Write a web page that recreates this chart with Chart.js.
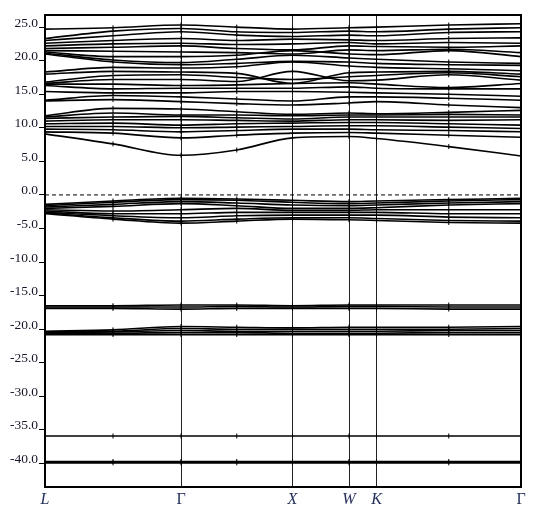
<!DOCTYPE html>
<html>
<head>
<meta charset="utf-8">
<script src="https://cdn.jsdelivr.net/npm/chart.js@4.4.1/dist/chart.umd.min.js"></script>
<style>
  body { margin: 0; background: #fff; }
  canvas { display: block; }
</style>
</head>
<body>
<canvas id="bands" width="539" height="519"></canvas>
<script>
// k-path positions (L, mid, Γ, mid, X, W, K, mid, Γ)
const kPos = [0, 0.68, 1.36, 1.9175, 2.475, 3.04, 3.315, 4.0375, 4.76];
const kTicks = [0, 1.36, 2.475, 3.04, 3.315, 4.76];
const kLabels = ['L', 'Γ', 'X', 'W', 'K', 'Γ'];
const yTicks = [25, 20, 15, 10, 5, 0, -5, -10, -15, -20, -25, -30, -35, -40];

// energies (eV) of each band at kPos
const coreBands = [
    [-39.7, -39.7, -39.7, -39.7, -39.7, -39.7, -39.7, -39.7, -39.7],
    [-39.9, -39.9, -39.9, -39.9, -39.9, -39.9, -39.9, -39.9, -39.9],
    [-35.9, -35.9, -35.9, -35.9, -35.9, -35.9, -35.9, -35.9, -35.9],
    [-20.3, -20.1, -19.6, -19.7, -19.8, -19.7, -19.7, -19.7, -19.6],
    [-20.4, -20.3, -19.9, -20.0, -20.0, -20.0, -20.0, -20.0, -19.9],
    [-20.5, -20.4, -20.2, -20.3, -20.3, -20.3, -20.3, -20.2, -20.2],
    [-20.6, -20.6, -20.5, -20.5, -20.6, -20.6, -20.6, -20.5, -20.5],
    [-20.8, -20.8, -20.8, -20.8, -20.8, -20.8, -20.8, -20.8, -20.8],
    [-16.5, -16.5, -16.4, -16.4, -16.5, -16.4, -16.4, -16.4, -16.4],
    [-16.7, -16.7, -16.7, -16.6, -16.7, -16.6, -16.6, -16.7, -16.7],
    [-16.9, -16.9, -17.0, -16.9, -16.9, -16.9, -16.9, -17.0, -17.0]
];
const valenceBands = [
    [-1.4, -0.9, -0.5, -0.6, -0.8, -1.0, -0.9, -0.7, -0.5],
    [-1.6, -1.1, -0.7, -0.8, -1.1, -1.3, -1.2, -0.9, -0.7],
    [-1.8, -1.4, -1.0, -1.2, -1.5, -1.6, -1.5, -1.2, -1.0],
    [-2.0, -1.7, -1.3, -1.6, -2.0, -2.0, -1.9, -1.5, -1.3],
    [-2.2, -2.4, -2.2, -2.0, -2.3, -2.3, -2.2, -2.2, -2.2],
    [-2.4, -2.8, -2.8, -2.6, -2.6, -2.6, -2.6, -2.8, -2.8],
    [-2.6, -3.1, -3.4, -3.1, -3.0, -3.0, -3.0, -3.3, -3.4],
    [-2.7, -3.4, -3.9, -3.6, -3.4, -3.4, -3.5, -3.8, -3.9],
    [-2.8, -3.6, -4.2, -3.9, -3.6, -3.7, -3.8, -4.1, -4.2]
];
const conductionBands = [
    // 5.8 - 13 eV
    [9.1, 7.6, 5.9, 6.7, 8.5, 8.7, 8.4, 7.2, 5.8],
    [9.4, 9.2, 8.5, 8.9, 9.2, 9.3, 9.2, 8.9, 8.6],
    [9.8, 9.7, 9.4, 9.6, 9.8, 9.8, 9.7, 9.6, 9.4],
    [10.2, 10.2, 10.0, 10.1, 10.2, 10.3, 10.3, 10.1, 9.9],
    [10.6, 10.7, 10.4, 10.6, 10.7, 10.8, 10.8, 10.6, 10.4],
    [11.0, 11.2, 11.2, 11.1, 11.0, 11.2, 11.2, 11.1, 11.2],
    [11.4, 11.6, 11.7, 11.5, 11.3, 11.6, 11.6, 11.6, 11.6],
    [11.6, 12.2, 11.9, 11.9, 11.8, 11.9, 11.9, 12.0, 11.9],
    [11.8, 12.9, 12.8, 12.4, 12.0, 12.2, 12.1, 12.3, 12.6],
    // 13 - 19.5 eV
    [14.0, 14.2, 13.9, 13.6, 13.4, 13.7, 13.9, 13.4, 13.0],
    [14.1, 14.8, 14.6, 14.3, 14.0, 14.6, 14.6, 14.4, 14.1],
    [15.4, 15.2, 15.2, 15.4, 15.4, 15.3, 15.2, 15.0, 14.7],
    [16.3, 15.8, 15.9, 15.9, 15.9, 16.1, 15.9, 15.8, 15.8],
    [16.5, 16.5, 16.3, 16.4, 16.6, 16.7, 16.5, 16.0, 16.6],
    [16.6, 17.2, 17.2, 16.9, 18.4, 17.0, 17.1, 17.9, 17.1],
    [16.8, 17.8, 17.9, 17.5, 17.2, 17.6, 17.8, 18.2, 17.6],
    [18.0, 18.4, 18.3, 18.1, 16.6, 18.2, 18.3, 18.4, 18.0],
    [18.3, 19.0, 18.9, 19.1, 19.8, 19.2, 19.0, 18.8, 18.5],
    // 19 - 25.5 eV
    [21.0, 19.8, 19.4, 19.6, 19.9, 19.8, 19.6, 19.4, 19.3],
    [21.1, 20.1, 19.7, 20.2, 20.8, 20.4, 20.2, 19.8, 19.6],
    [21.3, 20.6, 20.6, 20.8, 21.5, 21.0, 20.9, 21.5, 20.6],
    [21.5, 21.4, 21.3, 21.2, 21.0, 21.6, 21.5, 21.7, 21.2],
    [21.8, 22.0, 22.2, 21.8, 21.6, 22.2, 22.1, 22.0, 22.2],
    [22.2, 22.5, 22.6, 22.4, 22.5, 22.7, 22.5, 22.7, 22.6],
    [22.6, 23.0, 23.3, 23.0, 23.2, 23.1, 23.0, 23.3, 23.4],
    [23.0, 23.7, 24.3, 23.8, 23.6, 23.8, 23.7, 24.2, 24.3],
    [23.3, 24.4, 24.8, 24.3, 24.2, 24.4, 24.3, 24.7, 24.9],
    [24.7, 24.9, 25.3, 25.0, 24.7, 24.9, 25.0, 25.3, 25.5]
];
const fermiLevel = 0;

const allBands = coreBands.concat(valenceBands, conductionBands);

let datasets = allBands.map(function (band) {
    return {
        data: band.map(function (e, i) { return {x: kPos[i], y: e}; }),
        borderColor: '#000',
        borderWidth: 1.6,
        pointStyle: 'line',
        rotation: 90,
        pointRadius: 2.5,
        pointBorderWidth: 1,
        pointBorderColor: '#000',
        cubicInterpolationMode: 'monotone',
        fill: false
    };
});
datasets.push({
    data: [{x: kPos[0], y: fermiLevel}, {x: kPos[kPos.length - 1], y: fermiLevel}],
    borderColor: '#000',
    borderWidth: 1,
    borderDash: [4, 3],
    pointRadius: 0
});

const framePlugin = {
    id: 'frame',
    afterDraw(chart) {
        const a = chart.chartArea;
        const ctx = chart.ctx;
        ctx.save();
        ctx.strokeStyle = '#000';
        ctx.lineWidth = 2;
        ctx.strokeRect(a.left, a.top, a.right - a.left, a.bottom - a.top);
        ctx.restore();
    }
};

new Chart(document.getElementById('bands'), {
    type: 'line',
    data: {datasets: datasets},
    plugins: [framePlugin],
    options: {
        responsive: false,
        animation: false,
        layout: {padding: {left: 0, top: 15, right: 18, bottom: 0}},
        plugins: {legend: {display: false}, tooltip: {enabled: false}},
        scales: {
            x: {
                type: 'linear',
                min: kPos[0],
                max: kPos[kPos.length - 1],
                afterBuildTicks: function (axis) {
                    axis.ticks = kTicks.map(function (v) { return {value: v}; });
                },
                afterFit: function (axis) { axis.height = 32; },
                ticks: {
                    autoSkip: false,
                    maxRotation: 0,
                    padding: 3,
                    color: '#25305a',
                    font: function (ctx) {
                        return {
                            family: 'Liberation Serif',
                            size: 16,
                            style: kLabels[ctx.index] === 'Γ' ? 'normal' : 'italic'
                        };
                    },
                    callback: function (v, i) { return kLabels[i]; }
                },
                grid: {color: '#222', lineWidth: 1, drawTicks: false},
                border: {display: false}
            },
            y: {
                min: -43.5,
                max: 26.8,
                afterBuildTicks: function (axis) {
                    axis.ticks = yTicks.map(function (v) { return {value: v}; });
                },
                afterFit: function (axis) { axis.width = 45; },
                ticks: {
                    autoSkip: false,
                    padding: 1,
                    labelOffset: -4,
                    color: '#15152a',
                    font: {family: 'Liberation Serif', size: 13.5},
                    callback: function (v) { return v.toFixed(1); }
                },
                grid: {drawOnChartArea: false, drawTicks: true, tickLength: 6, color: '#000', lineWidth: 1},
                border: {display: false}
            }
        }
    }
});
</script>
</body>
</html>
